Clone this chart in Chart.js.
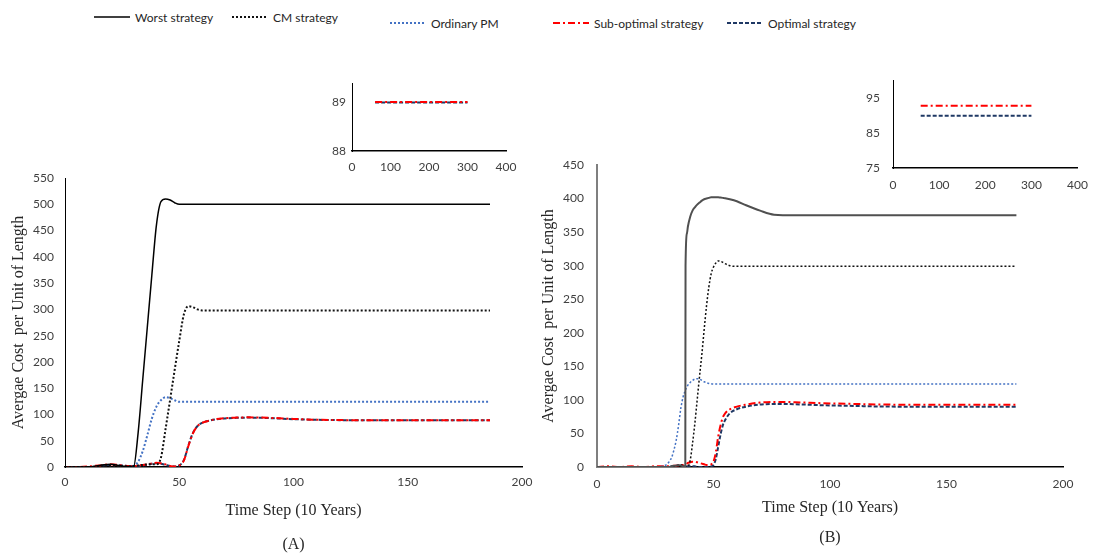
<!DOCTYPE html>
<html><head><meta charset="utf-8">
<script src="https://cdn.jsdelivr.net/npm/chart.js@4.4.0/dist/chart.umd.min.js"></script>
<style>
html,body{margin:0;padding:0;background:#fff;overflow:hidden;width:1098px;height:554px;position:relative;}
canvas{position:absolute;}
.leg{position:absolute;font-family:Lato,sans-serif;font-size:12px;color:#262626;white-space:nowrap;display:flex;align-items:center;height:16px;}
.leg svg{margin-right:5px;}
</style></head><body>
<canvas id="chartA" width="594" height="404" style="left:0;top:150px"></canvas>
<canvas id="chartB" width="616" height="414" style="left:530px;top:140px"></canvas>
<canvas id="insetA" width="210" height="110" style="left:320px;top:70px"></canvas>
<canvas id="insetB" width="238" height="140" style="left:860px;top:60px"></canvas>
<script>
// ---------- series ----------
const seriesNames = ['Worst strategy','CM strategy','Ordinary PM','Sub-optimal strategy','Optimal strategy'];
const seriesColors = ['#000000','#111111','#4472C4','#FF0000','#1F3864'];
const seriesDash = [[], [2,2], [2,2], [7,3,2,3], [4,2]];

// ---------- axis ticks ----------
const xTicksMain = [0,50,100,150,200];
const yTicksA = [0,50,100,150,200,250,300,350,400,450,500,550];
const yTicksB = [0,50,100,150,200,250,300,350,400,450];
const xTicksInset = [0,100,200,300,400];
const yTicksInsetA = [88,89];
const yTicksInsetB = [75,85,95];

// ---------- panel (A) ----------
const timeA = [0,5,10,15,20,25,28,30,32,34,36,38,40,42,44,46,48,50,52,54,56,58,60,63,66,70,75,80,90,100,110,120,140,160,186];
const worstA = [0,0,0,3,5,2,1,0,65,165,265,365,460,505,510,508,503,500,500,500,500,500,500,500,500,500,500,500,500,500,500,500,500,500,500];
const cmA = [0,0,0,1,2,1,1,2,3,4,5,5,5,18,72,128,185,240,290,306,304,300,298,298,298,298,298,298,298,298,298,298,298,298,298];
const ordinaryA = [0,0,0,0,0,0,1,2,10,30,60,92,115,127,133,131,127,124,124,124,124,124,124,124,124,124,124,124,124,124,124,124,124,124,124];
const subOptA = [0,0,1,3,5,3,2,2,3,4,5,7,8,7,5,2,1,3,12,40,64,78,84,88,91,93,94,94.5,93.5,91.5,90,89.3,89,89,89];
const optA = [0,0,0,2,4,3,2,2,2,3,4,6,7,6,4,2,1,3,13,41,65,78,84,88,90.5,92.5,93.5,94,93,91,89.8,89.2,89,89,89];

// ---------- panel (B) ----------
const timeB = [0,5,10,15,20,25,28,30,31,32,33,34,35,36,37,37.9,38,38.6,39,40,41,42,43,44,45,46,47,48,49,50,51,52,53,54,55,57,60,64,70,76,85,97,110,125,140,180];
const worstB = [0,0,0,0,0,0,0,0,0,1,2,2,3,2,1,0,300,348,358,373,382,387,391,394,397,399,400,401,402,402,402,402,401.5,401,400.5,399,396,390,382,376,375,375,375,375,375,375];
const cmB = [0,0,0,0,0,0,0,0,0,0,1,2,2,3,2,1,1,1,1,10,35,65,100,135,168,205,240,268,288,298,304,307,306.5,305,303,300,299,299,299,299,299,299,299,299,299,299];
const ordinaryB = [0,0,0,0,0,0,1,4,8,14,25,40,62,88,105,114,115,119,122,126,129,131,131.5,131,129,127,125.5,124.5,124,123.5,123.5,123.5,123.5,123.5,123.5,123.5,123.5,123.5,123.5,123.5,123.5,123.5,123.5,123.5,123.5,123.5];
const subOptB = [0,1,0,1,0,1,1,1,1,1,2,2,2,3,3,4,4,5,6,7,8,8,7,6,5,4,3,3,4,8,22,45,62,74,80,86,90,93,96,97,96.5,95,94,93,92.7,92.7];
const optB = [0,0,0,0,0,0,0,0,0,1,1,2,3,3,2,1,1,1,1,1,1,1,0,0,0,0,0,0,1,3,12,30,48,62,70,80,86,90,93,94,93.5,92,91,90,89.9,89.9];

// ---------- insets ----------
const insetTime = [60,300];
const insetSubOptA = [89.01,89.01];
const insetOptA = [89,89];
const insetSubOptB = [92.7,92.7];
const insetOptB = [89.9,89.9];

const xTitle = 'Time Step (10 Years)';
const yTitle = 'Avergae Cost  per Unit of Length';
const tickFont = {family:'Lato', size:12};
const tickColor = '#404040';
const serif = 'Liberation Serif';

function setTicks(arr){ return s => { s.ticks = arr.map(v => ({value:v})); }; }

function makeDatasets(t, list, idx, widths, colors){
  return list.map((ys,k) => {
    const i = idx[k];
    return {
      label: seriesNames[i],
      data: t.map((x,j) => ({x:x, y:ys[j]})),
      borderColor: colors ? colors[k] : seriesColors[i],
      borderDash: seriesDash[i],
      borderWidth: widths[k],
      pointRadius: 0,
      cubicInterpolationMode: 'monotone',
      fill: false
    };
  });
}

function mainChart(id, t, list, o){
  return new Chart(document.getElementById(id), {
    type:'line',
    data:{datasets: makeDatasets(t, list, [0,1,2,3,4], o.widths, o.colors)},
    options:{
      responsive:false, animation:false, events:[],
      layout:{padding:{top:o.padTop, right:o.padRight, left:0, bottom:0}},
      plugins:{
        legend:{display:false}, tooltip:{enabled:false},
        title:{display:true, text:o.label, position:'bottom', fullSize:false, color:'#262626',
               font:{family:serif, size:16, weight:'normal'}, padding:{top:0, bottom:o.labelPad}}
      },
      scales:{
        x:{type:'linear', min:0, max:200,
           grid:{display:false, drawTicks:false}, border:{color:'#000', width:1.5},
           afterBuildTicks:setTicks(xTicksMain),
           ticks:{padding:o.xTickPad, font:tickFont, color:tickColor},
           title:{display:true, text:xTitle, color:'#262626', font:{family:serif, size:16},
                  padding:{top:0, bottom:o.xTitlePad}},
           afterFit: s => { s.height = o.xHeight; }},
        y:{type:'linear', min:0, max:o.yMax,
           grid:{display:false, drawTicks:false}, border:{color:o.yBorder, width:o.yBorderW},
           afterBuildTicks:setTicks(o.yTicks),
           ticks:{padding:o.yTickPad, font:tickFont, color:tickColor},
           title:{display:true, text:yTitle, color:'#262626', font:{family:serif, size:16},
                  padding:{top:9.4, bottom:0}},
           afterFit: s => { s.width = o.yWidth; }}
      }
    }
  });
}

function insetChart(id, list, o){
  return new Chart(document.getElementById(id), {
    type:'line',
    data:{datasets: makeDatasets(insetTime, list, [3,4], [2,2])},
    options:{
      responsive:false, animation:false, events:[],
      layout:{padding:{top:o.padTop, right:o.padRight, left:0, bottom:0}},
      plugins:{legend:{display:false}, tooltip:{enabled:false}},
      scales:{
        x:{type:'linear', min:0, max:400,
           grid:{display:false, drawTicks:false}, border:{color:'#000', width:1.5},
           afterBuildTicks:setTicks(xTicksInset),
           ticks:{padding:o.xTickPad, font:tickFont, color:tickColor},
           afterFit: s => { s.height = o.xHeight; }},
        y:{type:'linear', min:o.yMin, max:o.yMax,
           grid:{display:false, drawTicks:false}, border:{color:'#000', width:1},
           afterBuildTicks:setTicks(o.yTicks),
           ticks:{padding:o.yTickPad, font:tickFont, color:tickColor},
           afterFit: s => { s.width = o.yWidth; }}
      }
    }
  });
}

mainChart('chartA', timeA, [worstA, cmA, ordinaryA, subOptA, optA], {
  label:'(A)', labelPad:0, padTop:28, padRight:72,
  xHeight:67.8, xTickPad:8, xTitlePad:14.2,
  yMax:550, yTicks:yTicksA, yWidth:65, yTickPad:11, yBorder:'#000', yBorderW:1,
  widths:[1.5,2,2,2,2]
});
mainChart('chartB', timeB, [worstB, cmB, ordinaryB, subOptB, optB], {
  label:'(B)', labelPad:6.4, padTop:25, padRight:83,
  xHeight:61.4, xTickPad:10, xTitlePad:10.8,
  yMax:450, yTicks:yTicksB, yWidth:67, yTickPad:13, yBorder:'#7F7F7F', yBorderW:2,
  widths:[2,1.5,1.5,2,2], colors:['#505050','#111111','#4472C4','#FF0000','#1F3864']
});
insetChart('insetA', [insetSubOptA, insetOptA], {
  padTop:12, padRight:24, xHeight:29, xTickPad:9,
  yMin:88, yMax:89.4, yTicks:yTicksInsetA, yWidth:32, yTickPad:6
});
insetChart('insetB', [insetSubOptB, insetOptB], {
  padTop:13, padRight:13, xHeight:32, xTickPad:10,
  yMin:75, yMax:100, yTicks:yTicksInsetB, yWidth:33, yTickPad:13
});

// ---------- legend ----------
const legendPos = [[94,17],[232,17],[390,23],[553,23],[727,23]];
const legendWidth = [1.5,2,2,2,2];
seriesNames.forEach((name,i) => {
  const d = document.createElement('div');
  d.className = 'leg';
  d.style.left = legendPos[i][0] + 'px';
  d.style.top = (legendPos[i][1] - 8) + 'px';
  d.innerHTML = '<svg width="36" height="6"><line x1="0" y1="3" x2="36" y2="3" stroke="' + seriesColors[i] +
    '" stroke-width="' + legendWidth[i] + '" stroke-dasharray="' + seriesDash[i].join(' ') + '"/></svg><span>' + name + '</span>';
  document.body.appendChild(d);
});
</script>
</body></html>
